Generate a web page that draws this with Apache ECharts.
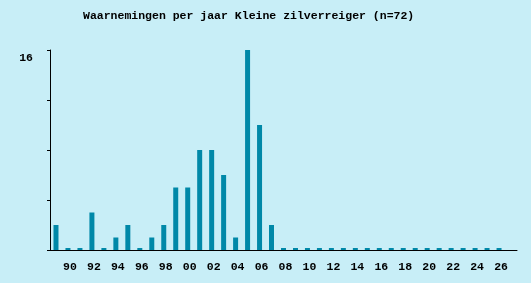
<!DOCTYPE html>
<html><head><meta charset="utf-8">
<script src="https://cdn.jsdelivr.net/npm/echarts@6/dist/echarts.min.js"></script>
<style>html,body{margin:0;padding:0;background:#c8eef7;}#c{width:531px;height:283px;}</style>
</head><body><div id="c"></div>
<script>
var years = [];
for (var y = 1989; y <= 2027; y++) years.push(String(y));
var counts = [2,0,0,3,0,1,2,0,1,2,5,5,8,8,6,1,16,10,2,0,0,0,0,0,0,0,0,0,0,0,0,0,0,0,0,0,0,0,null];
var yMax = 16;
var yInterval = 4;
var title = 'Waarnemingen per jaar Kleine zilverreiger (n=72)';

var chart = echarts.init(document.getElementById('c'), null, {renderer:'canvas'});
var font = 'Liberation Mono';
chart.setOption({
  backgroundColor: '#c8eef7',
  animation: false,
  title: {text: title, left: 83, top: 10, padding: 0,
    textStyle: {fontFamily: font, fontWeight: 'bold', fontSize: 11.5, color: '#000'}},
  grid: {left: 50, top: 50, right: 14, bottom: 33},
  xAxis: {type: 'category', data: years, boundaryGap: true,
    axisLine: {lineStyle: {color: '#000', width: 1}},
    axisTick: {alignWithLabel: true, length: 3, interval: function(i){return i % 2 === 1;}, lineStyle:{color:'#000'}},
    axisLabel: {interval: function(i){return i % 2 === 1;}, formatter: function(v){return v.slice(2);},
      fontFamily: font, fontWeight: 'bold', fontSize: 11.5, color: '#000', margin: 11, padding: [0,0,0,4]}},
  yAxis: {type: 'value', min: 0, max: yMax, interval: yInterval,
    splitLine: {show: false},
    axisLine: {show: true, lineStyle: {color: '#000', width: 1}},
    axisTick: {show: true, length: 3, lineStyle:{color:'#000'}},
    axisLabel: {formatter: function(v){return v === yMax ? String(v) : '';},
      verticalAlign: 'top', padding: [2,0,0,0],
      fontFamily: font, fontWeight: 'bold', fontSize: 11.5, color: '#000', margin: 17}},
  series: [{type: 'bar', data: counts, barWidth: 5, barMinHeight: 2,
    itemStyle: {color: '#0088a8'}}]
});
</script></body></html>
